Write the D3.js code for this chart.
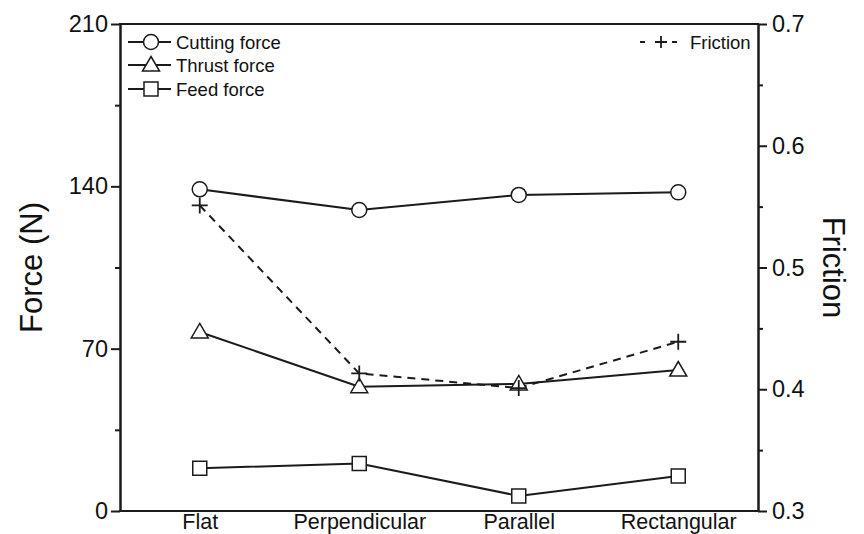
<!DOCTYPE html>
<html>
<head>
<meta charset="utf-8">
<script src="https://cdn.jsdelivr.net/npm/d3@7"></script>
<style>
  body { margin: 0; background: #fff; }
  svg { display: block; }
  text { font-family: "Liberation Sans", Arial, sans-serif; fill: #111; }
</style>
</head>
<body>
<svg id="chart" width="864" height="534"></svg>
<script>
// Cutting-tool texture comparison: force components (left axis) and friction (right axis)
const categories = ["Flat", "Perpendicular", "Parallel", "Rectangular"];
const cuttingForce = [138.7, 129.8, 136.3, 137.4];
const thrustForce = [77.2, 53.6, 54.8, 60.8];
const feedForce = [18.4, 20.5, 6.5, 15.1];
const friction = [0.551, 0.413, 0.401, 0.439];

const forceTicks = [0, 70, 140, 210];
const forceMinorTicks = [35, 105, 175];
const frictionTicks = [0.3, 0.4, 0.5, 0.6, 0.7];
const frictionMinorTicks = [0.35, 0.45, 0.55, 0.65];

const legendForce = ["Cutting force", "Thrust force", "Feed force"];
const legendFriction = "Friction";

const ink = "#1b1b1b";
const plot = { left: 120, right: 758, top: 24, bottom: 511 };

const svg = d3.select("#chart");

const x = d3.scalePoint().domain(categories).range([plot.left, plot.right]).padding(0.5);
const yForce = d3.scaleLinear().domain([0, 210]).range([plot.bottom, plot.top]);
const yFric = d3.scaleLinear().domain([0.3, 0.7]).range([plot.bottom, plot.top]);

function styleAxis(g, fontSize) {
  g.selectAll(".domain").attr("stroke", ink).attr("stroke-width", 2);
  g.selectAll(".tick line").attr("stroke", ink).attr("stroke-width", 2);
  g.selectAll(".tick text").attr("font-size", fontSize).attr("fill", "#111")
    .style("font-family", '"Liberation Sans", Arial, sans-serif');
}

// left axis: major + minor ticks
const gl = svg.append("g").attr("transform", `translate(${plot.left},0)`)
  .call(d3.axisLeft(yForce).tickValues(forceTicks).tickFormat(d3.format("d")).tickSize(9).tickSizeOuter(0).tickPadding(3));
styleAxis(gl, 23.5);
const glm = svg.append("g").attr("transform", `translate(${plot.left},0)`)
  .call(d3.axisLeft(yForce).tickValues(forceMinorTicks).tickFormat("").tickSize(5).tickSizeOuter(0));
styleAxis(glm, 23.5);

// right axis
const gr = svg.append("g").attr("transform", `translate(${plot.right},0)`)
  .call(d3.axisRight(yFric).tickValues(frictionTicks).tickFormat(d3.format(".1f")).tickSize(9).tickSizeOuter(0).tickPadding(5));
styleAxis(gr, 23.5);
const grm = svg.append("g").attr("transform", `translate(${plot.right},0)`)
  .call(d3.axisRight(yFric).tickValues(frictionMinorTicks).tickFormat("").tickSize(5).tickSizeOuter(0));
styleAxis(grm, 23.5);

// bottom axis with category labels, no ticks
const gb = svg.append("g").attr("transform", `translate(0,${plot.bottom})`)
  .call(d3.axisBottom(x).tickSize(0).tickSizeOuter(0).tickPadding(3));
styleAxis(gb, 21.5);
gb.select(".domain").attr("d", `M${plot.left - 1},0H${plot.right + 1}`);

// top frame line
svg.append("line")
  .attr("x1", plot.left - 1).attr("x2", plot.right + 1)
  .attr("y1", plot.top).attr("y2", plot.top)
  .attr("stroke", ink).attr("stroke-width", 2);

// axis titles
svg.append("text")
  .attr("transform", `translate(42,${(plot.top + plot.bottom) / 2}) rotate(-90)`)
  .attr("text-anchor", "middle").attr("font-size", 31)
  .text("Force (N)");
svg.append("text")
  .attr("transform", `translate(823,${(plot.top + plot.bottom) / 2}) rotate(90)`)
  .attr("text-anchor", "middle").attr("font-size", 31)
  .text("Friction");

// marker shapes
const markerPaths = {
  circle: "M7.5,0A7.5,7.5 0 1,1 -7.5,0A7.5,7.5 0 1,1 7.5,0Z",
  triangle: "M0,-8.5L8.5,6L-8.5,6Z",
  square: "M-7,-7H7V7H-7Z",
  plus: "M-8,0H8M0,-8V8",
  plusSmall: "M-6,0H6M0,-6V6"
};

const line = (ys, yScale) => d3.line()
  .x((d, i) => x(categories[i]))
  .y(d => yScale(d))(ys);

const forceSeries = [
  { values: cuttingForce, shape: "circle" },
  { values: thrustForce, shape: "triangle" },
  { values: feedForce, shape: "square" }
];

// friction dashed line (right axis)
svg.append("path")
  .attr("d", line(friction, yFric))
  .attr("fill", "none").attr("stroke", ink).attr("stroke-width", 2)
  .attr("stroke-dasharray", "8,6");

forceSeries.forEach(s => {
  svg.append("path")
    .attr("d", line(s.values, yForce))
    .attr("fill", "none").attr("stroke", ink).attr("stroke-width", 2);
});

forceSeries.forEach(s => {
  svg.selectAll(null).data(s.values).enter().append("path")
    .attr("transform", (d, i) => `translate(${x(categories[i])},${yForce(d)})`)
    .attr("d", markerPaths[s.shape])
    .attr("fill", "#fff").attr("stroke", ink).attr("stroke-width", 1.5);
});

svg.selectAll(null).data(friction).enter().append("path")
  .attr("transform", (d, i) => `translate(${x(categories[i])},${yFric(d)})`)
  .attr("d", markerPaths.plus)
  .attr("fill", "none").attr("stroke", ink).attr("stroke-width", 1.8);

// legend, upper left
const legendRows = [42, 65, 89];
legendForce.forEach((name, i) => {
  const g = svg.append("g").attr("transform", `translate(0,${legendRows[i]})`);
  g.append("line").attr("x1", 128).attr("x2", 171).attr("y1", 0).attr("y2", 0)
    .attr("stroke", ink).attr("stroke-width", 2);
  g.append("path").attr("transform", "translate(151,0)")
    .attr("d", markerPaths[forceSeries[i].shape])
    .attr("fill", "#fff").attr("stroke", ink).attr("stroke-width", 1.5);
  g.append("text").attr("x", 176).attr("y", 0).attr("dy", "0.36em")
    .attr("font-size", 18.5).text(name);
});

// legend, upper right
const lf = svg.append("g").attr("transform", "translate(0,42)");
lf.append("line").attr("x1", 640).attr("x2", 677).attr("y1", 0).attr("y2", 0)
  .attr("stroke", ink).attr("stroke-width", 2).attr("stroke-dasharray", "5,27,5");
lf.append("path").attr("transform", "translate(661,0)")
  .attr("d", markerPaths.plusSmall).attr("fill", "none").attr("stroke", ink).attr("stroke-width", 1.8);
lf.append("text").attr("x", 690).attr("y", 0).attr("dy", "0.36em")
  .attr("font-size", 18.5).text(legendFriction);
</script>
</body>
</html>
